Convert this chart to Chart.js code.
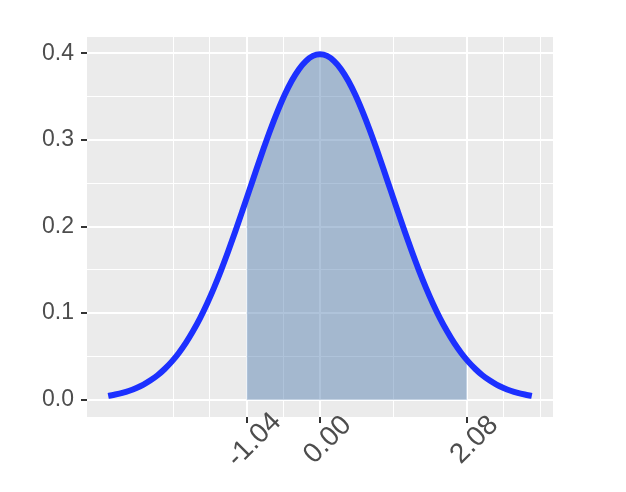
<!DOCTYPE html>
<html>
<head>
<meta charset="utf-8">
<script src="https://cdn.jsdelivr.net/npm/chart.js@4/dist/chart.umd.min.js"></script>
<style>
  html, body { margin: 0; padding: 0; background: #ffffff; }
  #c { display: block; }
</style>
</head>
<body>
<canvas id="c" width="626" height="492"></canvas>
<script>
// ---- data ----
const curveX = [
  -3.0, -2.9, -2.8, -2.7, -2.6, -2.5, -2.4, -2.3, -2.2, -2.1,
  -2.0, -1.9, -1.8, -1.7, -1.6, -1.5, -1.4, -1.3, -1.2, -1.1,
  -1.0, -0.9, -0.8, -0.7, -0.6, -0.5, -0.4, -0.3, -0.2, -0.1,
   0.0,  0.1,  0.2,  0.3,  0.4,  0.5,  0.6,  0.7,  0.8,  0.9,
   1.0,  1.1,  1.2,  1.3,  1.4,  1.5,  1.6,  1.7,  1.8,  1.9,
   2.0,  2.1,  2.2,  2.3,  2.4,  2.5,  2.6,  2.7,  2.8,  2.9, 3.0
];
const curveDensity = [
  0.0044, 0.0060, 0.0079, 0.0104, 0.0136, 0.0175, 0.0224, 0.0283, 0.0355, 0.0440,
  0.0540, 0.0656, 0.0790, 0.0940, 0.1109, 0.1295, 0.1497, 0.1714, 0.1942, 0.2179,
  0.2420, 0.2661, 0.2897, 0.3123, 0.3332, 0.3521, 0.3683, 0.3814, 0.3910, 0.3970,
  0.3989, 0.3970, 0.3910, 0.3814, 0.3683, 0.3521, 0.3332, 0.3123, 0.2897, 0.2661,
  0.2420, 0.2179, 0.1942, 0.1714, 0.1497, 0.1295, 0.1109, 0.0940, 0.0790, 0.0656,
  0.0540, 0.0440, 0.0355, 0.0283, 0.0224, 0.0175, 0.0136, 0.0104, 0.0079, 0.0060, 0.0044
];
const shadeBounds = [-1.04, 2.08];
const shadeEdgeDensity = [0.2323, 0.0459];

const xMajorBreaks = [-1.04, 0.00, 2.08];
const xTickLabels = ['-1.04', '0.00', '2.08'];
const xMinorBreaks = [-2.08, -1.56, -0.52, 1.04, 2.60, 3.12];
const yMajorBreaks = [0.0, 0.1, 0.2, 0.3, 0.4];
const yTickLabels = ['0.0', '0.1', '0.2', '0.3', '0.4'];
const yMinorBreaks = [0.05, 0.15, 0.25, 0.35];
const xLimits = [-3.3, 3.3];
const yLimits = [-0.01995, 0.41884];

// ---- derived tables ----
const curvePoints = curveX.map((x, i) => ({ x: x, y: curveDensity[i] }));
const shadePoints = [{ x: shadeBounds[0], y: shadeEdgeDensity[0] }]
  .concat(curvePoints.filter(p => p.x > shadeBounds[0] + 1e-9 && p.x < shadeBounds[1] - 1e-9))
  .concat([{ x: shadeBounds[1], y: shadeEdgeDensity[1] }]);

const near = (arr, v) => arr.some(b => Math.abs(b - v) < 1e-9);
const xAll = xMajorBreaks.concat(xMinorBreaks).sort((a, b) => a - b);
const yAll = yMajorBreaks.concat(yMinorBreaks).sort((a, b) => a - b);

const panelBg = {
  id: 'panelBg',
  beforeDraw(chart) {
    const { ctx, chartArea: a } = chart;
    ctx.save();
    ctx.fillStyle = '#ffffff';
    ctx.fillRect(0, 0, chart.width, chart.height);
    ctx.fillStyle = '#EBEBEB';
    ctx.fillRect(a.left, a.top, a.right - a.left, a.bottom - a.top);
    ctx.restore();
  }
};

const xLabels = {
  id: 'xLabels',
  afterDraw(chart) {
    const { ctx, chartArea: a } = chart;
    const xs = chart.scales.x;
    ctx.save();
    ctx.fillStyle = '#4D4D4D';
    ctx.font = '28px "Liberation Sans", Arial, Helvetica, sans-serif';
    ctx.textAlign = 'center';
    ctx.textBaseline = 'middle';
    xMajorBreaks.forEach((v, i) => {
      const px = xs.getPixelForValue(v);
      ctx.save();
      ctx.translate(px + 7.7, a.bottom + 23);
      ctx.rotate(-Math.PI / 4);
      ctx.fillText(xTickLabels[i], 0, 0);
      ctx.restore();
    });
    ctx.restore();
  }
};

new Chart(document.getElementById('c'), {
  type: 'line',
  data: {
    datasets: [
      {
        data: curvePoints,
        borderColor: 'rgb(28,48,255)',
        borderWidth: 6,
        pointRadius: 0,
        fill: false,
        cubicInterpolationMode: 'monotone'
      },
      {
        data: shadePoints,
        borderWidth: 0,
        borderColor: 'rgba(0,0,0,0)',
        backgroundColor: 'rgba(78,122,172,0.45)',
        pointRadius: 0,
        fill: 'origin'
      }
    ]
  },
  options: {
    responsive: false,
    animation: false,
    devicePixelRatio: 1,
    layout: { padding: { left: 0, top: 37, right: 73, bottom: 0 } },
    plugins: { legend: { display: false }, tooltip: { enabled: false } },
    scales: {
      x: {
        type: 'linear',
        min: xLimits[0],
        max: xLimits[1],
        afterBuildTicks: s => { s.ticks = xAll.map(v => ({ value: v })); },
        afterFit: s => { s.height = 75; },
        border: { display: false },
        grid: {
          color: '#ffffff',
          lineWidth: c => near(xMajorBreaks, c.tick.value) ? 2 : 1,
          drawTicks: true,
          tickLength: 6,
          tickColor: c => near(xMajorBreaks, c.tick.value) ? '#333333' : 'rgba(0,0,0,0)',
          tickWidth: 2
        },
        ticks: { display: false, autoSkip: false }
      },
      y: {
        type: 'linear',
        min: yLimits[0],
        max: yLimits[1],
        afterBuildTicks: s => { s.ticks = yAll.map(v => ({ value: v })); },
        afterFit: s => { s.width = 87; },
        border: { display: false },
        grid: {
          color: '#ffffff',
          lineWidth: c => near(yMajorBreaks, c.tick.value) ? 2 : 1,
          drawTicks: true,
          tickLength: 6,
          tickColor: c => near(yMajorBreaks, c.tick.value) ? '#333333' : 'rgba(0,0,0,0)',
          tickWidth: 2
        },
        ticks: {
          autoSkip: false,
          padding: 7,
          color: '#4D4D4D',
          font: { family: '"Liberation Sans", Arial, Helvetica, sans-serif', size: 23 },
          callback: v => {
            const i = yMajorBreaks.findIndex(b => Math.abs(b - v) < 1e-9);
            return i >= 0 ? yTickLabels[i] : '';
          }
        }
      }
    }
  },
  plugins: [panelBg, xLabels]
});
</script>
</body>
</html>
